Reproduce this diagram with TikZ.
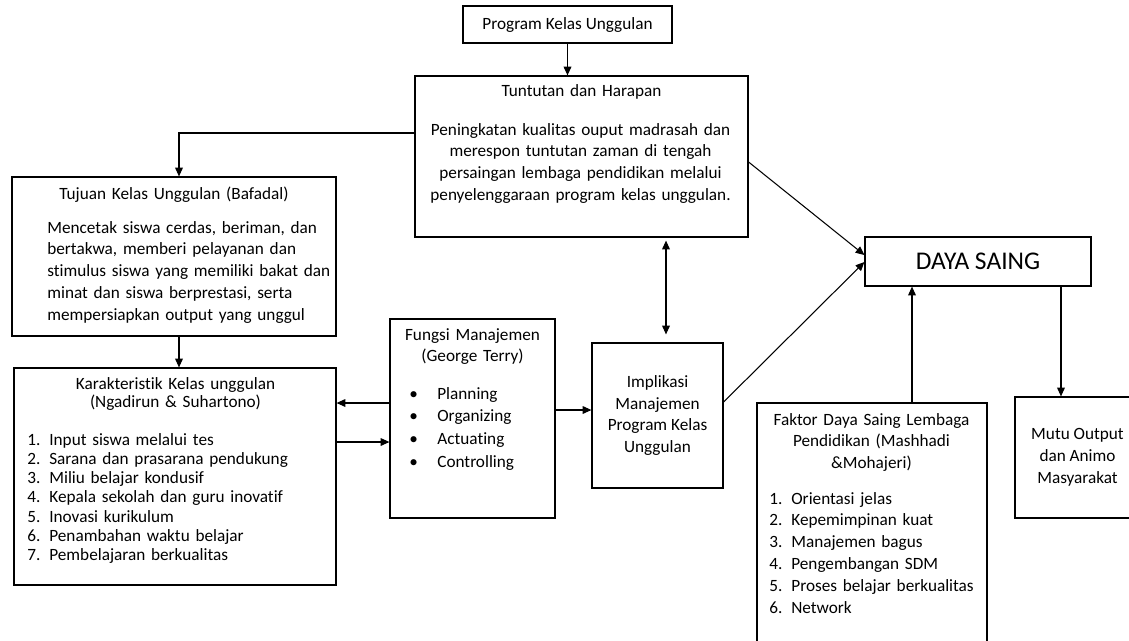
\documentclass[tikz,border=0pt]{standalone}
\usepackage{fontspec}
\setmainfont{Carlito}[Ligatures=NoCommon]
\usetikzlibrary{arrows.meta}

\newcommand{\listnr}[1]{\makebox[0.44cm][l]{#1}}

\tikzset{
    box/.style={draw, line width=0.7pt, inner sep=0pt},
    txt/.style={font=\fontsize{9.8}{12.5}\selectfont, inner sep=0pt},
    arr/.style={line width=0.6pt, -{Triangle[length=5pt, width=4.4pt]}},
}

\begin{document}
\begin{tikzpicture}[x=0.02cm, y=-0.02cm]
    \useasboundingbox (0, 0) rectangle (1129, 640);
    \clip (0, 0) rectangle (1129, 640);

    % boxes
    \node[box, txt, minimum width=4.18cm, minimum height=0.74cm] (prog) at (567.5, 24.5) {Program Kelas Unggulan};
    \node[box, minimum width=6.66cm, minimum height=3.22cm] (tuntutan) at (581.5, 156.5) {};
    \node[box, minimum width=6.48cm, minimum height=3.18cm] (tujuan) at (174, 256.5) {};
    \node[box, minimum width=6.44cm, minimum height=4.34cm] (karakter) at (175, 476.5) {};
    \node[box, minimum width=3.3cm, minimum height=3.98cm] (fungsi) at (472.5, 418.5) {};
    \node[box, txt, align=center, minimum width=2.62cm, minimum height=2.9cm] (impl) at (657.5, 415.5) {Implikasi\\ Manajemen\\ Program Kelas\\ Unggulan};
    \node[box, font=\fontsize{14.5}{16}\selectfont, minimum width=4.52cm, minimum height=0.98cm] (daya) at (978, 261.5) {DAYA SAING};
    \node[box, minimum width=4.6cm, minimum height=4.94cm] (faktor) at (872, 526.5) {};
    \node[box, txt, align=center, minimum width=2.5cm, minimum height=2.42cm] (mutu) at (1077.5, 457.5) {Mutu Output\\ dan Animo\\ Masyarakat};

    % texts in the boxes
    \node[txt, anchor=base, text width=6.4cm, align=center] (tuntutan-head) at (581.5, 96) {Tuntutan dan Harapan};
    \node[txt, anchor=base, text width=6.4cm, align=center] (tuntutan-body) at (580.5, 135) {Peningkatan kualitas ouput madrasah dan\\ merespon tuntutan zaman di tengah\\ persaingan lembaga pendidikan melalui\\ penyelenggaraan program kelas unggulan.};

    \node[txt, anchor=base, text width=6.2cm, align=center] (tujuan-head) at (174, 199) {Tujuan Kelas Unggulan (Bafadal)};
    \node[txt, anchor=base west, text width=5.8cm, align=left] (tujuan-body) at (47, 233) {Mencetak siswa cerdas, beriman, dan\\ bertakwa, memberi pelayanan dan\\ stimulus siswa yang memiliki bakat dan\\ minat dan siswa berprestasi, serta\\ mempersiapkan output yang unggul};

    \node[txt, anchor=base, text width=6.2cm, align=center, font=\fontsize{9.8}{10.8}\selectfont] (karakter-head) at (175.5, 389) {Karakteristik Kelas unggulan\\ (Ngadirun \& Suhartono)};
    \node[txt, anchor=base west, text width=6cm, align=left, font=\fontsize{9.8}{11}\selectfont] (karakter-list) at (27, 445) {\listnr{1.}Input siswa melalui tes\\ \listnr{2.}Sarana dan prasarana pendukung\\ \listnr{3.}Miliu belajar kondusif\\ \listnr{4.}Kepala sekolah dan guru inovatif\\ \listnr{5.}Inovasi kurikulum\\ \listnr{6.}Penambahan waktu belajar\\ \listnr{7.}Pembelajaran berkualitas};

    \node[txt, anchor=base, text width=3.2cm, align=center] (fungsi-head) at (472.5, 340) {Fungsi Manajemen\\ (George Terry)};
    \node[txt, anchor=base west, text width=3cm, align=left, font=\fontsize{9.8}{12.9}\selectfont] (fungsi-list) at (409, 399) {\makebox[0.56cm][l]{\textbullet}Planning\\ \makebox[0.56cm][l]{\textbullet}Organizing\\ \makebox[0.56cm][l]{\textbullet}Actuating\\ \makebox[0.56cm][l]{\textbullet}Controlling};

    \node[txt, anchor=base, text width=4.4cm, align=center] (faktor-head) at (871.5, 425) {Faktor Daya Saing Lembaga\\ Pendidikan (Mashhadi\\ \&Mohajeri)};
    \node[txt, anchor=base west, text width=4.3cm, align=left] (faktor-list) at (769, 504) {\listnr{1.}Orientasi jelas\\ \listnr{2.}Kepemimpinan kuat\\ \listnr{3.}Manajemen bagus\\ \listnr{4.}Pengembangan SDM\\ \listnr{5.}Proses belajar berkualitas\\ \listnr{6.}Network};

    % connectors
    \draw[arr] (prog.south) -- (prog.south |- tuntutan.north);
    \draw[arr] ([yshift=0.47cm]tuntutan.west) -| ([xshift=0.1cm]tujuan.north);
    \draw[arr] ([xshift=0.1cm]tujuan.south) -- ([xshift=0.1cm]tujuan.south |- karakter.north);
    \draw[arr] ([yshift=0.31cm]fungsi.west) -- ([yshift=0.31cm]fungsi.west -| karakter.east);
    \draw[arr] ([yshift=0.69cm]karakter.east) -- ([yshift=0.69cm]karakter.east -| fungsi.west);
    \draw[arr] ([yshift=0.17cm]fungsi.east) -- ([yshift=0.17cm]fungsi.east -| impl.west);
    \draw[arr, {Triangle[length=5pt, width=4.4pt]}-{Triangle[length=5pt, width=4.4pt]}, shorten <=0.16cm, shorten >=0.06cm] ([xshift=0.17cm]impl.north) -- ([xshift=0.17cm]impl.north |- tuntutan.south);
    \draw[arr] ([yshift=-0.11cm]tuntutan.east) -- ([yshift=0.13cm]daya.west);
    \draw[arr] ([yshift=0.27cm]impl.east) -- ([yshift=-0.01cm]daya.west);
    \draw[arr] ([xshift=0.8cm]faktor.north) -- ([xshift=0.8cm]faktor.north |- daya.south);
    \draw[arr] ([xshift=1.66cm]daya.south) -- ([xshift=1.66cm]daya.south |- mutu.north);
\end{tikzpicture}
\end{document}
